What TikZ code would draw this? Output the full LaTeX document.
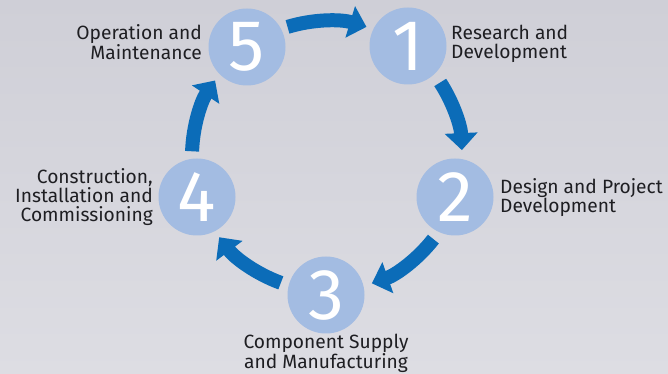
\documentclass[tikz,border=0pt]{standalone}
\usepackage{fontspec}
\setmainfont{Fira Sans}
\usetikzlibrary{arrows.meta}
\definecolor{bgtop}{HTML}{CFCFD7}
\definecolor{bgbot}{HTML}{DDDDE3}
\definecolor{disc}{HTML}{A3BCE2}
\definecolor{arrowblue}{HTML}{0B6CB8}
\definecolor{labeltext}{HTML}{1E1E22}
\tikzset{
  stage/.style={circle, fill=disc, minimum size=77pt, inner sep=0pt,
    text=white, font=\fontsize{72}{72}\selectfont},
  label/.style={inner sep=0pt, text=labeltext,
    font=\fontsize{19.2}{19}\selectfont},
  flow/.style={line width=14pt, draw=arrowblue,
    -{Triangle[width=32pt,length=17pt]}},
}
\begin{document}
\begin{tikzpicture}[x=1pt,y=1pt]
  \shade[top color=bgtop, bottom color=bgbot] (0,0) rectangle (668,374);
  \useasboundingbox (0,0) rectangle (668,374);
  \coordinate (O) at (327,218);
  \node[stage] (s5) at (247,327) {5};
  \node[stage] (s1) at (408,328) {1};
  \node[stage] (s2) at (455,177) {2};
  \node[stage] (s3) at (326,79) {3};
  \node[stage] (s4) at (197,177) {4};
  \draw[flow] (O) ++(107:135) arc[start angle=107, end angle=73, radius=135];
  \draw[flow] (O) ++(33:135) arc[start angle=33, end angle=2.5, radius=135];
  \draw[flow] (O) ++(-38:135) arc[start angle=-38, end angle=-70.6, radius=135];
  \draw[flow] (O) ++(-110:135) arc[start angle=-110, end angle=-143, radius=135];
  \draw[flow] (O) ++(178:135) arc[start angle=178, end angle=146, radius=135];
  \node[label, align=right, anchor=base east] (l5) at (202,314) {Operation and\\Maintenance};
  \node[label, align=left, anchor=base west] (l1) at (451,315) {Research and\\Development};
  \node[label, align=left, anchor=base west] (l2) at (500,161) {Design and Project\\Development};
  \node[label, align=right, anchor=base east] (l4) at (153,152) {Construction,\\Installation and\\Commissioning};
  \node[label, align=center, anchor=base] (l3) at (326,5) {Component Supply\\and Manufacturing};
\end{tikzpicture}
\end{document}
